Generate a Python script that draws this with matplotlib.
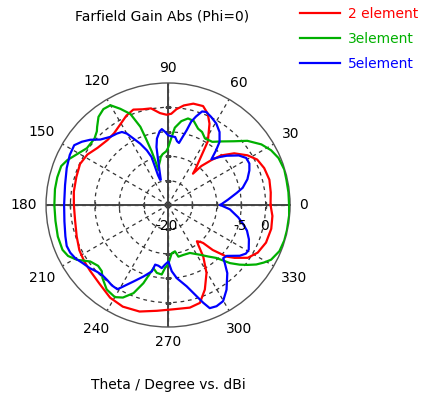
import numpy as np
import matplotlib
matplotlib.use("Agg")
import matplotlib.pyplot as plt

# ---------------- data (theta in degrees, gain in dBi) ----------------
theta_2el = [0, 7, 14, 21, 27, 32, 38, 43, 46, 49.5, 51.5, 53, 55, 58, 63, 66.5, 70.5, 76, 81, 85,
             88, 91, 95, 100, 105, 110, 115, 120, 127, 133, 141, 148, 155, 163, 172, 180, 189, 199,
             207, 214, 220, 229, 238, 246, 255, 264, 273, 282, 288, 293.5, 299.5, 304.3, 307.2,
             308.5, 311, 312.7, 314.8, 318.6, 321.5, 326.5, 332, 339, 347, 354]
gain_2el = [1.0, 1.2, 1.4, 1.1, 0.5, -0.8, -2.8, -5.1, -7.2, -9.5, -11.8, -10.5, -8.8, -4.6, -1.3, 0.4,
            1.5, 1.4, 0.65, -0.3, -1.3, -1.5, -1.1, 0.1, 0.3, 0.8, 0.2, -0.7, -1.6, -1.8, -1.4, -0.5,
            -0.1, -0.35, -0.5, -0.7, -0.7, -0.2, 0.4, 0.7, 0.9, 1.4, 2.4, 2.8, 2.6, 1.8, 1.4, 1.5, 1.1,
            -1.1, -4.0, -7.2, -9.8, -10.5, -10.0, -9.4, -7.0, -4.0, -2.6, -0.4, 0.8, 1.5, 1.7, 1.5]

theta_3el = [0, 6, 12, 17, 23, 28, 33, 39, 44, 50, 55, 61, 65, 68.5, 73, 77, 81, 85, 87.5, 90, 92,
             96, 98.6, 100, 102.5, 105.5, 106, 107, 108.5, 109.5, 112.5, 116.4, 120, 124, 128.3,
             132.3, 134, 138, 145, 151, 156, 160, 166, 172, 180, 188, 196, 203, 207, 211, 216, 221,
             225, 228, 234, 240, 244, 248.6, 252.5, 257, 260.6, 264.8, 267.3, 270, 274.4, 278.5,
             281.3, 287, 294.5, 302.6, 308, 312.4, 316.8, 320.2, 323, 326, 329, 332, 337.5, 343,
             348, 355]
gain_3el = [4.8, 4.8, 4.8, 4.9, 4.6, 3.9, 2.8, 0.9, -1.2, -3.0, -4.2, -4.4, -3.5, -3.2, -2.0, -1.8,
            -2.6, -4.1, -6.5, -8.3, -9.0, -9.5, -10.0, -10.7, -11.5, -12.6, -11.0, -8.5, -5.5, -3.0,
            0.2, 2.0, 3.6, 3.7, 3.0, 1.6, 1.0, 0.3, 0.3, 1.4, 2.6, 3.3, 3.4, 3.4, 3.3, 3.3, 3.5, 3.5,
            3.0, 1.8, -0.3, -1.0, -0.8, 0.1, 1.4, 1.8, 1.1, -0.6, -3.2, -6.7, -5.9, -5.7, -7.1, -7.8,
            -10.1, -10.4, -9.2, -9.3, -9.2, -7.9, -6.6, -5.3, -2.6, -0.9, 0.4, 1.8, 2.9, 3.9, 4.7,
            4.9, 4.9, 4.9]

theta_5el = [0, 5, 10, 13, 18, 23, 27, 31, 35, 40, 43, 46.5, 48.7, 50.8, 54.8, 59.4, 64, 67.7, 70,
             72.5, 74.5, 76, 78, 80, 82, 84, 87, 90, 92.3, 94.7, 96.5, 99.5, 101.3, 102.5, 104, 106,
             107.5, 108.7, 108.8, 109, 111.2, 114.4, 117.5, 120, 122.3, 125.6, 130.3, 136, 140,
             143.7, 147.5, 153, 160, 169, 180, 189, 197, 202, 206, 210, 214, 219, 223, 227, 231,
             235, 239, 241.3, 245.7, 251, 256.3, 257.8, 261, 264.3, 267, 270.3, 273.2, 276.8, 282.9,
             287.4, 289.8, 292, 295.6, 299.8, 304.6, 311, 314.4, 316, 319, 324.7, 328, 331, 337,
             342, 346, 350, 356]
gain_5el = [-9.3, -7.7, -5.7, -4.3, -2.9, -1.9, -1.3, -1.3, -2.3, -4.3, -5.6, -7.1, -5.1, -3.3, -1.7,
            -0.6, 0.1, 0.6, 0.4, -1.0, -2.3, -4.2, -5.8, -7.1, -6.8, -6.0, -5.9, -5.7, -5.0, -4.4,
            -4.8, -6.2, -7.9, -10.6, -12.8, -14.6, -14.6, -13.5, -11.7, -9.6, -8.0, -6.2, -4.65,
            -3.1, -2.3, -2.0, -1.7, -0.7, 0.8, 1.9, 2.8, 2.6, 2.1, 1.5, 1.3, 1.5, 2.0, 2.4, 2.3, 1.9,
            1.2, 0.6, 0.0, -0.3, -0.2, 0.1, 0.15, -1.0, -2.8, -4.5, -6.0, -7.5, -7.4, -7.0, -7.75,
            -8.4, -6.4, -4.9, -2.9, -0.4, 1.3, 2.8, 3.0, 2.7, 1.1, -1.5, -3.4, -4.3, -4.1, -2.0,
            -1.2, -1.1, -2.0, -3.0, -4.2, -5.4, -7.3]

series_names = ["2 element", "3element", "5element"]
series_colors = ["#ff0000", "#00b000", "#0000ff"]

r_min, r_max = -20, 5
r_grid = [-15, -10, -5, 0]
r_labels = {-20: "-20", -5: "-5", 0: "0"}
angle_ticks = list(range(0, 360, 30))

title_text = "Farfield Gain Abs (Phi=0)"
bottom_text = "Theta / Degree vs. dBi"

# ---------------- figure ----------------
plt.rcParams["font.family"] = ["DejaVu Sans"]
fig = plt.figure(figsize=(4.26, 4.05), dpi=100)
fig.patch.set_facecolor("white")
ax = fig.add_axes([0.108, 0.1926, 0.573, 0.6025], projection="polar")
ax.set_ylim(r_min, r_max)

grid_kw = dict(color="#333333", linewidth=0.9, linestyle=(0, (3, 3)))
ax.set_rgrids(r_grid, labels=[""] * len(r_grid))
ax.set_thetagrids(angle_ticks, labels=[""] * len(angle_ticks))
ax.grid(True, **grid_kw)
ax.tick_params(axis="both", length=0, pad=0)
ax.spines["polar"].set_color("#555555")
ax.spines["polar"].set_linewidth(1.0)

# solid main axes
for a in [0, 90, 180, 270]:
    ax.axvline(np.deg2rad(a), color="#444444", linewidth=1.4, zorder=2)
# small ticks on the main axes
for a, mk in [(0, "|"), (180, "|"), (90, "_"), (270, "_")]:
    ax.plot(np.full(len(r_grid), np.deg2rad(a)), r_grid, linestyle="none", marker=mk,
            markersize=4, markeredgewidth=1.0, color="#444444", zorder=2)

# curves
for th, g, name, col in zip([theta_2el, theta_3el, theta_5el],
                            [gain_2el, gain_3el, gain_5el],
                            series_names, series_colors):
    t = np.deg2rad(np.append(th, th[0] + 360))
    v = np.append(g, g[0])
    ax.plot(t, v, color=col, linewidth=1.6, label=name, zorder=3)

# angle labels outside the circle
for a in angle_ticks:
    lab = str(a)
    rad = np.deg2rad(a)
    w = 9.0 * len(lab)
    h = 12.0
    d = 9 + 0.5 * (w * abs(np.cos(rad)) + h * abs(np.sin(rad)))
    ax.annotate(lab, xy=(rad, r_max), xytext=(d * np.cos(rad), d * np.sin(rad)),
                textcoords="offset pixels", ha="center", va="center", fontsize=10,
                color="black", annotation_clip=False)

# radial labels
for r, lab in r_labels.items():
    ax.annotate(lab, xy=(0, r), xytext=(-1, -21), textcoords="offset pixels",
                ha="center", va="center", fontsize=10, color="black", annotation_clip=False)

fig.text(162 / 426, 1 - 17 / 405, title_text, ha="center", va="center", fontsize=10)
fig.text(168 / 426, 1 - 385 / 405, bottom_text, ha="center", va="center", fontsize=10)

leg = fig.legend(loc="upper left", bbox_to_anchor=(300 / 426, 1 - 7 / 405), frameon=False,
                 borderpad=0, borderaxespad=0, handlelength=2.9, handletextpad=0.55,
                 labelspacing=0.78, fontsize=10, labelcolor="linecolor")
for line in leg.get_lines():
    line.set_linewidth(1.6)

fig.savefig("out.png", dpi=100, facecolor="white")
